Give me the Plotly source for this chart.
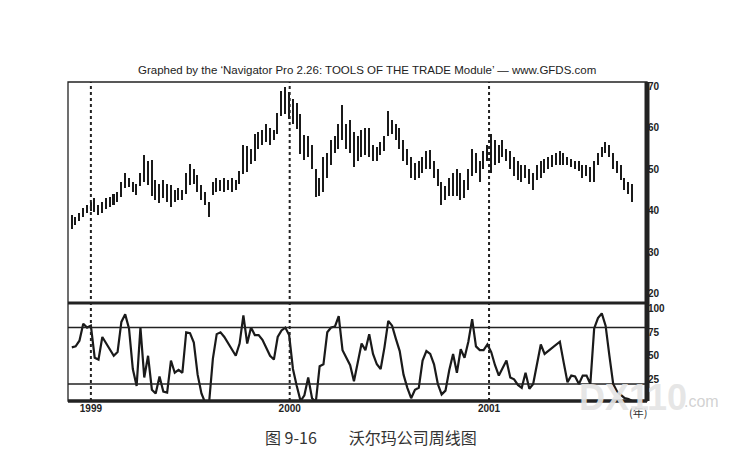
import pandas as pd
import plotly.graph_objects as go
from plotly.subplots import make_subplots

# weekly bars, Walmart
week_start = "1998-11-27"
highs = [39, 38.5, 39.5, 40.7, 41.5, 42, 43, 41.3, 42, 43,
         43.3, 44, 44.5, 47, 49, 48, 47, 46.5, 49, 53.5,
         52, 52.2, 47.4, 46.5, 47.4, 46.5, 46.2, 45, 45.5, 45,
         49, 51.3, 50, 48.6, 46.2, 44.5, 42, 47, 48, 47.5,
         47.9, 47.5, 48, 47.5, 49.5, 55.9, 55.6, 55, 58.5, 59,
         59.5, 61, 60, 59.5, 63.5, 69, 70, 68.7, 67, 66,
         63.4, 58.3, 58, 56, 50, 48, 53, 54, 57, 58,
         61, 65.5, 61, 62, 59, 58, 59.5, 60, 60, 56,
         55.5, 56.5, 58, 64, 62, 61, 60, 57, 55, 53,
         51.5, 52, 53, 54.5, 54.7, 52, 50, 47, 46, 48,
         49, 50, 49, 47.5, 50, 55, 54, 52, 54.5, 56,
         58.5, 57, 56, 57, 55, 54.5, 53, 52, 51, 51,
         50, 49, 51, 52, 52.5, 53, 53.5, 54, 54.5, 54,
         53, 52.5, 52, 52, 51, 51, 50.5, 52, 54, 55.5,
         56.5, 56, 54, 52, 51, 48, 47, 46.5]
lows = [35.5, 36.5, 37.5, 38.5, 39.5, 40, 39.7, 39, 39.5, 40.5,
        41, 41.5, 42, 43.3, 45.5, 45.7, 44.5, 43.8, 46, 47,
        46.2, 43.5, 42.5, 41.9, 43, 42, 41, 42, 42.5, 42.5,
        44, 46.2, 46.5, 44.5, 42.5, 41.4, 38.5, 43.8, 44.5, 44.8,
        44.5, 45, 44.5, 45, 46.5, 48.9, 49.4, 51.3, 52, 55,
        56, 56.5, 56, 57, 58.5, 63, 63.4, 62.2, 61, 59.7,
        53.7, 52.2, 53, 50, 43.3, 43.5, 44.5, 48, 51, 54,
        55, 57, 55, 54, 50.5, 52, 53, 53.5, 53, 52,
        52, 53.5, 54.5, 58, 58.5, 57, 55, 52, 51, 48,
        47.5, 48, 49, 50, 50, 48, 46, 41.5, 42.5, 43.5,
        43.5, 43.5, 42.5, 43, 45, 48.5, 49, 47, 50, 52,
        49, 51, 51.5, 53, 52, 50, 48.5, 47.5, 47, 48,
        46.5, 45, 47.5, 48, 49, 50, 50.5, 51, 51, 51,
        51, 50.5, 50, 49.5, 48, 48.5, 47, 47, 51, 53,
        54, 53, 50, 49, 47.5, 45, 44, 42]

# stochastic oscillator, same weeks
stoch = [59, 60, 66, 84, 80, 82, 48, 46, 70, 63,
         57, 50, 54, 86, 94, 79, 36, 18, 80, 27,
         50, 14, 10, 28, 12, 11, 45, 32, 35, 32,
         75, 74, 64, 30, 10, 0, 0, 47, 73, 75,
         70, 63, 56, 50, 63, 93, 63, 80, 72, 72,
         67, 58, 50, 46, 70, 77, 80, 72, 36, 18,
         2, 8, 27, 5, 1, 39, 41, 75, 80, 81,
         92, 56, 48, 40, 23, 45, 63, 56, 73, 52,
         41, 36, 59, 87, 82, 68, 55, 30, 16, 5,
         14, 16, 45, 55, 52, 41, 20, 9, 13, 35,
         52, 32, 57, 48, 65, 89, 60, 56, 56, 62,
         54, 40, 29, 37, 45, 27, 25, 19, 16, 32,
         15, 20, 40, 62, 52, 55, 59, 62, 65, 43,
         22, 29, 28, 20, 29, 29, 20, 79, 90, 95,
         82, 50, 20, 12, 8, 5, 4, 2]

year_marks = ["1999-01-01", "2000-01-01", "2001-01-01"]
year_labels = ["1999", "2000", "2001"]
price_ticks = [20, 30, 40, 50, 60, 70]
stoch_ticks = [25, 50, 75, 100]
stoch_levels = [80, 20]

dates = pd.date_range(week_start, periods=len(highs), freq="7D")
df = pd.DataFrame({"date": dates, "high": highs, "low": lows, "stoch": stoch})

fig = make_subplots(rows=2, cols=1, shared_xaxes=True, vertical_spacing=0,
                    row_heights=[0.693, 0.307])

# high-low bars
fig.add_trace(go.Bar(x=df["date"], base=df["low"], y=df["high"] - df["low"],
                     width=2.8 * 86400000, marker_color="#1a1a1a",
                     marker_line_width=0, showlegend=False), row=1, col=1)

fig.add_trace(go.Scatter(x=df["date"], y=df["stoch"], mode="lines",
                         line=dict(color="#1a1a1a", width=2.2),
                         showlegend=False), row=2, col=1)

# dotted year lines
for d in year_marks:
    fig.add_shape(type="line", x0=d, x1=d, y0=0, y1=1, xref="x", yref="paper",
                  line=dict(color="#222", width=2, dash="dot"))

for lv in stoch_levels:
    fig.add_shape(type="line", x0=0, x1=1, y0=lv, y1=lv, xref="paper", yref="y2",
                  line=dict(color="#222", width=1.6))

# frame: thin top/left, heavy right and bottoms
fig.add_shape(type="rect", x0=0, x1=1, y0=0, y1=1, xref="paper", yref="paper",
              line=dict(color="#222", width=1.3))
fig.add_shape(type="line", x0=1, x1=1, y0=0, y1=1, xref="paper", yref="paper",
              line=dict(color="#222", width=5))
fig.add_shape(type="line", x0=0, x1=1, y0=0.307, y1=0.307, xref="paper", yref="paper",
              line=dict(color="#222", width=3))
fig.add_shape(type="line", x0=0, x1=1, y0=0, y1=0, xref="paper", yref="paper",
              line=dict(color="#222", width=3.5))

tick_font = dict(family="Liberation Sans, Arial", size=10, color="#222")

fig.update_xaxes(range=["1998-11-20", "2001-10-18"], showgrid=False, zeroline=False,
                 showline=False, ticks="")
fig.update_xaxes(tickvals=year_marks, ticktext=[f"<b>{t}</b>" for t in year_labels],
                 tickfont=tick_font, row=2, col=1)

fig.update_yaxes(range=[17.7, 71.1], side="right", tickvals=price_ticks,
                 ticktext=[f"<b>{t}</b>" for t in price_ticks], tickfont=tick_font,
                 showgrid=False, zeroline=False, showline=False, ticks="", row=1, col=1)
fig.update_yaxes(range=[2, 106], side="right", tickvals=stoch_ticks,
                 ticktext=[f"<b>{t}</b>" for t in stoch_ticks], tickfont=tick_font,
                 showgrid=False, zeroline=False, showline=False, ticks="", row=2, col=1)

fig.add_annotation(text="Graphed by the \u2018Navigator Pro 2.26: TOOLS OF THE TRADE Module\u2019 \u2014 www.GFDS.com",
                   x=0.516, y=1, xref="paper", yref="paper", yanchor="bottom", yshift=4,
                   showarrow=False, font=dict(family="Liberation Sans, Arial", size=11.5, color="#222"))
fig.add_annotation(text="(年)", x=1, y=0, xref="paper", yref="paper", yanchor="top",
                   xanchor="right", xshift=2, yshift=-1, showarrow=False,
                   font=dict(family="Noto Sans CJK SC", size=11, color="#333"))
fig.add_annotation(text="图 9-16\u2003\u2003沃尔玛公司周线图", x=0.523, y=0, xref="paper", yref="paper",
                   yanchor="middle", yshift=-36, showarrow=False,
                   font=dict(family="Noto Sans CJK SC", size=16, color="#333"))
# scan watermark
fig.add_annotation(text="<b>DX110</b>", x=0.975, y=0, xref="paper", yref="paper",
                   yanchor="middle", xanchor="center", yshift=4, showarrow=False,
                   font=dict(family="Liberation Sans, Arial", size=36, color="rgba(228,228,228,0.92)"))
fig.add_annotation(text=".com", x=1.06, y=0, xref="paper", yref="paper",
                   yanchor="middle", xanchor="left", showarrow=False,
                   font=dict(family="Liberation Sans, Arial", size=16, color="rgba(205,205,205,0.9)"))

# page adds an 8px body margin, so the figure is 8px smaller each way
fig.update_layout(width=743, height=442, margin=dict(l=60, r=104, t=74, b=49),
                  paper_bgcolor="white", plot_bgcolor="white", bargap=0)

fig.write_html("out.html")
